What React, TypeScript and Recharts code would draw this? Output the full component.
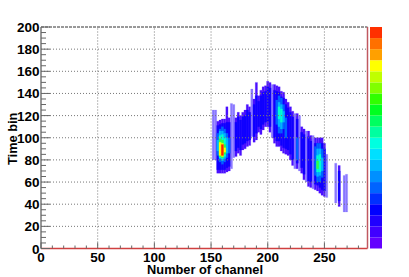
import React from "react";
import { ComposedChart, BarChart, Bar, XAxis, YAxis, Cell, ReferenceLine } from "recharts";

const channels = [152,154,156,158,160,162,164,166,168,170,172,174,176,178,180,182,184,186,188,190,192,194,196,198,200,202,204,206,208,210,212,214,216,218,220,222,224,226,228,230,232,234,236,238,240,242,244,246,248,250,252,260,263,267.5,269.5];
const outerLow = [80,80,68,68,68,68,69,70,72,82,83,86,84,89,90,92,93,101,96,98,105,103,107,110,110,105,100,95,92,92,88,86,85,84,80,75,72,72,70,68,62,60,56,55,54,53,52,50,48,47,46,41,38,33,33];
const outerHigh = [125,125,115,116,117,117,128,118,131,130,118,123,120,123,125,130,128,144,135,150,138,143,146,147,151,150,148,148,147,146,142,141,135,132,128,124,122,122,120,110,108,106,106,102,102,100,100,100,100,95,85,77,75,66,67];
const paleFlags = [1,1,0,0,0,0,0,0,1,1,0,0,0,0,0,0,0,1,0,0,0,0,0,0,0,0,1,0,0,0,0,0,0,0,0,0,1,0,1,0,0,1,0,0,1,0,0,0,0,0,1,1,0,1,1];
const innerLow = [null,null,71,71,71,71,73,74,null,null,88,91,89,94,95,97,98,null,101,104,110,108,112,114,115,110,null,100,97,97,93,91,90,89,85,80,null,77,null,73,67,null,61,60,null,58,57,55,53,52,null,null,43,null,null];
const innerHigh = [null,null,111,112,113,113,114,114,null,null,114,119,116,119,120,125,123,null,130,138,133,138,141,142,146,145,null,143,142,141,137,136,130,127,123,119,null,117,null,105,103,null,101,97,null,95,95,95,95,90,null,null,70,null,null];

const azureRows = [[156,84,104],[158,78,108],[160,76,110],[162,78,108],[164,82,104],[166,86,100],[208,112,134],[210,104,138],[212,104,136],[214,108,130],[216,100,118],[226,80,100],[242,66,92],[244,60,95],[246,60,95],[248,64,90]];
const skyRows = [[156,88,98],[158,81,106],[160,79,106],[162,81,104],[164,86,100],[210,110,132],[212,108,130],[214,114,124],[244,65,90],[246,66,90],[248,70,82]];
const tealRows = [[158,82,102],[160,81,103],[162,83,100],[210,117,128],[212,114,126],[244,69,84],[246,69,85]];
const greenRows = [[158,83,99],[160,82,98],[162,85,94],[244,72,79]];
const yellowRows = [[158,84,96],[160,83,95],[162,87,91]];
const redRows = [[160,84,94]];

const layerKeys = ["azure","sky","teal","green","yellow","red"];
const layerRows = [azureRows,skyRows,tealRows,greenRows,yellowRows,redRows];
const layerColors = ["#0064ff","#00b4ff","#00ffd0","#30ff40","#ffff00","#ff2000"];

const xMajor = [0,50,100,150,200,250];
const xTicks = [0,10,20,30,40,50,60,70,80,90,100,110,120,130,140,150,160,170,180,190,200,210,220,230,240,250,260,270,280];
const yMajor = [0,20,40,60,80,100,120,140,160,180,200];
const yTicks = [0,5,10,15,20,25,30,35,40,45,50,55,60,65,70,75,80,85,90,95,100,105,110,115,120,125,130,135,140,145,150,155,160,165,170,175,180,185,190,195,200];
const paletteColors = ["#6400ff","#4000ff","#2000ff","#0000ff","#0030ff","#0064ff","#0090ff","#00b8ff","#00e0ff","#00ffe0","#00ffa0","#00ff60","#00ff20","#30ff00","#80ff00","#c0ff00","#ffff00","#ffa000","#ff7000","#ff3000"];
const paletteStep = [175];
const zTicks = [0,500,1000,1500,2000,2500,3000];
const FONT = "'Liberation Sans', Arial, sans-serif";
const BAR = 2.25;

const rows = channels.map((ch, i) => {
  const r: any = {
    ch,
    outer: [outerLow[i], outerHigh[i]],
    pale: paleFlags[i],
    inner: innerLow[i] == null ? null : [innerLow[i], innerHigh[i]],
  };
  layerKeys.forEach((k, j) => {
    const m = layerRows[j].find((x) => x[0] === ch);
    r[k] = m ? [m[1], m[2]] : null;
  });
  return r;
});

const XTick = (p: any) => {
  const v = p.payload.value;
  const major = xMajor.includes(v);
  return (
    <g>
      <line x1={p.x} x2={p.x} y1={248.5} y2={major ? 242.5 : 245.5} stroke="#666" strokeWidth={1} />
      {major && <text x={p.x} y={262} textAnchor="middle" fontFamily={FONT} fontWeight={700} fontSize={13.5} fill="#000">{v}</text>}
    </g>
  );
};
const YTick = (p: any) => {
  const v = p.payload.value;
  const major = yMajor.includes(v);
  return (
    <g>
      <line x1={41} x2={major ? 50 : 46} y1={p.y} y2={p.y} stroke="#666" strokeWidth={1} />
      {major && <text x={39.5} y={p.y + 5} textAnchor="end" fontFamily={FONT} fontWeight={700} fontSize={13.5} fill="#000">{v}</text>}
    </g>
  );
};
const ZTick = (p: any) => (
  <g>
    <line x1={372} x2={382} y1={p.y} y2={p.y} stroke="#000" strokeOpacity={0.6} strokeWidth={1} />
    <text x={384.5} y={p.y + 4} textAnchor="start" fontFamily={FONT} fontWeight={700} fontSize={10} fill="#000">{p.payload.value}</text>
  </g>
);

export default function App() {
  return (
    <div style={{ position: "absolute", left: 0, top: 0, width: 409, height: 277, background: "#fff" }}>
      <div style={{ position: "absolute", left: 0, top: 0 }}>
        <ComposedChart width={409} height={277} data={rows} margin={{ top: 27, right: 41.5, bottom: 0, left: 0 }} barSize={BAR} barGap={-BAR}>
          <XAxis dataKey="ch" type="number" domain={[0, 288]} ticks={xTicks} interval={0} height={28.5} tickLine={false} tick={XTick} axisLine={false} allowDataOverflow />
          <YAxis type="number" domain={[0, 200]} ticks={yTicks} interval={0} width={41} tickLine={false} tick={YTick} axisLine={{ stroke: "#777", strokeWidth: 1.5 }} />
          <Bar dataKey="outer" isAnimationActive={false} fill="#5000ff">
            {rows.map((r, i) => <Cell key={i} fill={r.pale ? "#8a78ff" : "#4a10ff"} stroke={r.pale ? "#8a78ff" : "#4a10ff"} strokeWidth={0.2} />)}
          </Bar>
          <Bar dataKey="inner" isAnimationActive={false} fill="#1000ff" stroke="#1000ff" strokeWidth={0.2} />
          {layerKeys.map((k, j) => <Bar key={k} dataKey={k} isAnimationActive={false} fill={layerColors[j]} stroke={layerColors[j]} strokeWidth={0.2} />)}
          {xMajor.slice(1).map((v) => <ReferenceLine key={"x" + v} x={v} stroke="#777" strokeDasharray="1 2" />)}
          {yMajor.slice(1, -1).map((v) => <ReferenceLine key={"y" + v} y={v} stroke="#777" strokeDasharray="1 2" />)}
          <ReferenceLine y={200} stroke="#333" strokeDasharray="3 1" />
          <ReferenceLine y={0} stroke="#d04040" strokeWidth={1.5} />
          <ReferenceLine x={288} stroke="#c05860" strokeWidth={1.5} />
        </ComposedChart>
      </div>
      <div style={{ position: "absolute", left: 0, top: 0 }}>
        <BarChart width={409} height={277} data={[Object.fromEntries(paletteColors.map((_, i) => ["b" + i, paletteStep[0]]))]} margin={{ top: 27, right: 27, bottom: 28.5, left: 370 }} barCategoryGap={0}>
          <XAxis hide />
          <YAxis orientation="right" type="number" domain={[0, 3500]} ticks={zTicks} interval={0} width={0} tickLine={false} axisLine={false} tick={ZTick} />
          {paletteColors.map((c, i) => <Bar key={c} dataKey={"b" + i} stackId="z" fill={c} isAnimationActive={false} />)}
        </BarChart>
      </div>
      <svg width={409} height={277} style={{ position: "absolute", left: 0, top: 0 }}>
        <text x={263} y={274} textAnchor="end" fontFamily={FONT} fontWeight={700} fontSize={12.8} fill="#000">Number of channel</text>
        <text transform="translate(17,165) rotate(-90)" textAnchor="start" fontFamily={FONT} fontWeight={700} fontSize={12.8} fill="#000">Time bin</text>
      </svg>
    </div>
  );
}
